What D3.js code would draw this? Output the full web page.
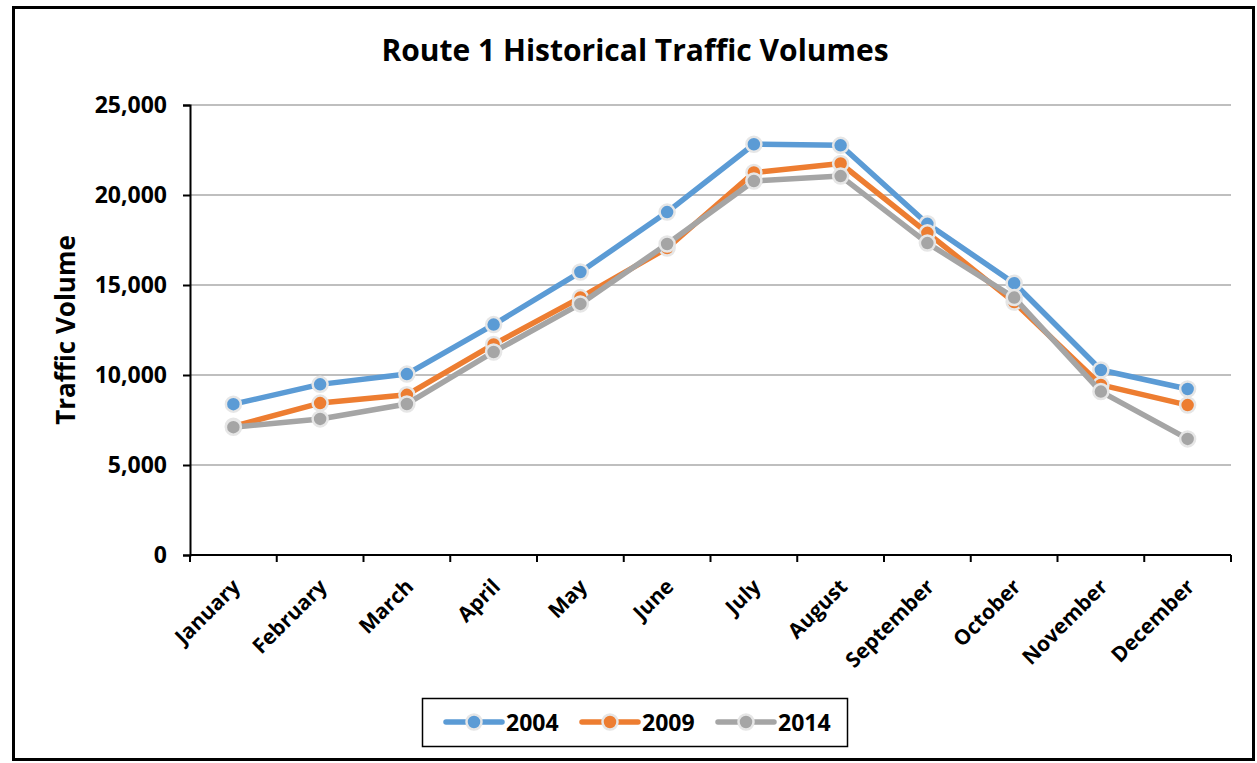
<!DOCTYPE html>
<html>
<head>
<meta charset="utf-8">
<script src="https://cdn.jsdelivr.net/npm/d3@7"></script>
<style>
  body { margin: 0; background: #fff; }
  text { font-family: "Open Sans", "Noto Sans", sans-serif; font-weight: bold; fill: #000; }
</style>
</head>
<body>
<svg width="1257" height="763"></svg>
<script>
const months = ["January", "February", "March", "April", "May", "June", "July",
  "August", "September", "October", "November", "December"];
const years = ["2004", "2009", "2014"];
const v2004 = [8380, 9480, 10050, 12800, 15720, 19050, 22820, 22760, 18400, 15100, 10280, 9220];
const v2009 = [7150, 8440, 8900, 11700, 14300, 17050, 21250, 21750, 17900, 14050, 9450, 8330];
const v2014 = [7100, 7560, 8390, 11280, 13950, 17280, 20780, 21050, 17330, 14300, 9080, 6450];
const yTicks = [0, 5000, 10000, 15000, 20000, 25000];
const colors = ["#5B9BD5", "#ED7D31", "#A5A5A5"];

const series = [v2004, v2009, v2014];

const svg = d3.select("svg");

// outer frame
svg.append("rect")
  .attr("x", 13.5).attr("y", 7.5)
  .attr("width", 1240).attr("height", 752)
  .attr("fill", "#fff")
  .attr("stroke", "#000")
  .attr("stroke-width", 3);

svg.append("text")
  .attr("x", 635).attr("y", 61)
  .attr("text-anchor", "middle")
  .attr("font-size", 30)
  .text("Route 1 Historical Traffic Volumes");

const plotLeft = 190, plotRight = 1231, plotTop = 105, plotBottom = 555;

const x = d3.scaleBand().domain(months).range([plotLeft, plotRight]);
const y = d3.scaleLinear().domain([0, 25000]).range([plotBottom, plotTop]);

// gridlines
svg.append("g")
  .selectAll("line")
  .data(yTicks.filter(d => d > 0))
  .enter()
  .append("line")
  .attr("x1", plotLeft).attr("x2", plotRight)
  .attr("y1", d => y(d)).attr("y2", d => y(d))
  .attr("stroke", "#BFBFBF")
  .attr("stroke-width", 2);

// y axis
const yAxis = d3.axisLeft(y).tickValues(yTicks).tickSize(7).tickPadding(16)
  .tickFormat(d3.format(",.0f"));
const gy = svg.append("g")
  .attr("transform", `translate(${plotLeft},0)`)
  .call(yAxis);
gy.select(".domain").attr("stroke", "#000").attr("stroke-width", 2);
gy.selectAll(".tick line").attr("stroke", "#000").attr("stroke-width", 2);
gy.selectAll("text").attr("font-size", 23).attr("fill", "#000")
  .attr("font-family", "'Open Sans', sans-serif");

// x axis - ticks at the band boundaries
const gx = svg.append("g")
  .attr("transform", `translate(0,${plotBottom})`);
gx.append("line")
  .attr("x1", plotLeft).attr("x2", plotRight)
  .attr("stroke", "#000").attr("stroke-width", 2);
const bounds = months.map(m => x(m)).concat([plotRight]);
gx.selectAll(".tk")
  .data(bounds)
  .enter()
  .append("line")
  .attr("x1", d => d).attr("x2", d => d)
  .attr("y1", 0).attr("y2", 7)
  .attr("stroke", "#000").attr("stroke-width", 2);
gx.selectAll(".lbl")
  .data(months)
  .enter()
  .append("text")
  .attr("transform", d => `translate(${x(d) + x.bandwidth() / 2 + 8},${33}) rotate(-45)`)
  .attr("text-anchor", "end")
  .attr("font-size", 21)
  .text(d => d);

svg.append("text")
  .attr("transform", "translate(75,330) rotate(-90)")
  .attr("text-anchor", "middle")
  .attr("font-size", 26)
  .text("Traffic Volume");

// lines + markers
const line = d3.line()
  .x((d, i) => x(months[i]) + x.bandwidth() / 2)
  .y(d => y(d));

series.forEach((s, k) => {
  svg.append("path")
    .datum(s)
    .attr("d", line)
    .attr("fill", "none")
    .attr("stroke", colors[k])
    .attr("stroke-width", 5.5)
    .attr("stroke-linejoin", "round");
  svg.append("g")
    .selectAll("circle")
    .data(s)
    .enter()
    .append("circle")
    .attr("cx", (d, i) => x(months[i]) + x.bandwidth() / 2)
    .attr("cy", d => y(d))
    .attr("r", 7.5)
    .attr("fill", colors[k])
    .attr("stroke", "#E6E6E6")
    .attr("stroke-width", 2.5);
});

// legend
const lg = svg.append("g");
lg.append("rect")
  .attr("x", 422.5).attr("y", 698.5)
  .attr("width", 425).attr("height", 48)
  .attr("fill", "#fff").attr("stroke", "#000").attr("stroke-width", 1.5);
const legendX = [446, 582, 718];
years.forEach((yr, k) => {
  const g = lg.append("g").attr("transform", `translate(${legendX[k]},722)`);
  g.append("line").attr("x1", 0).attr("x2", 56)
    .attr("stroke", colors[k]).attr("stroke-width", 5.5).attr("stroke-linecap", "round");
  g.append("circle").attr("cx", 28).attr("r", 7.5)
    .attr("fill", colors[k]).attr("stroke", "#E6E6E6").attr("stroke-width", 2.5);
  g.append("text").attr("x", 60).attr("y", 9).attr("font-size", 23).text(yr);
});
</script>
</body>
</html>
